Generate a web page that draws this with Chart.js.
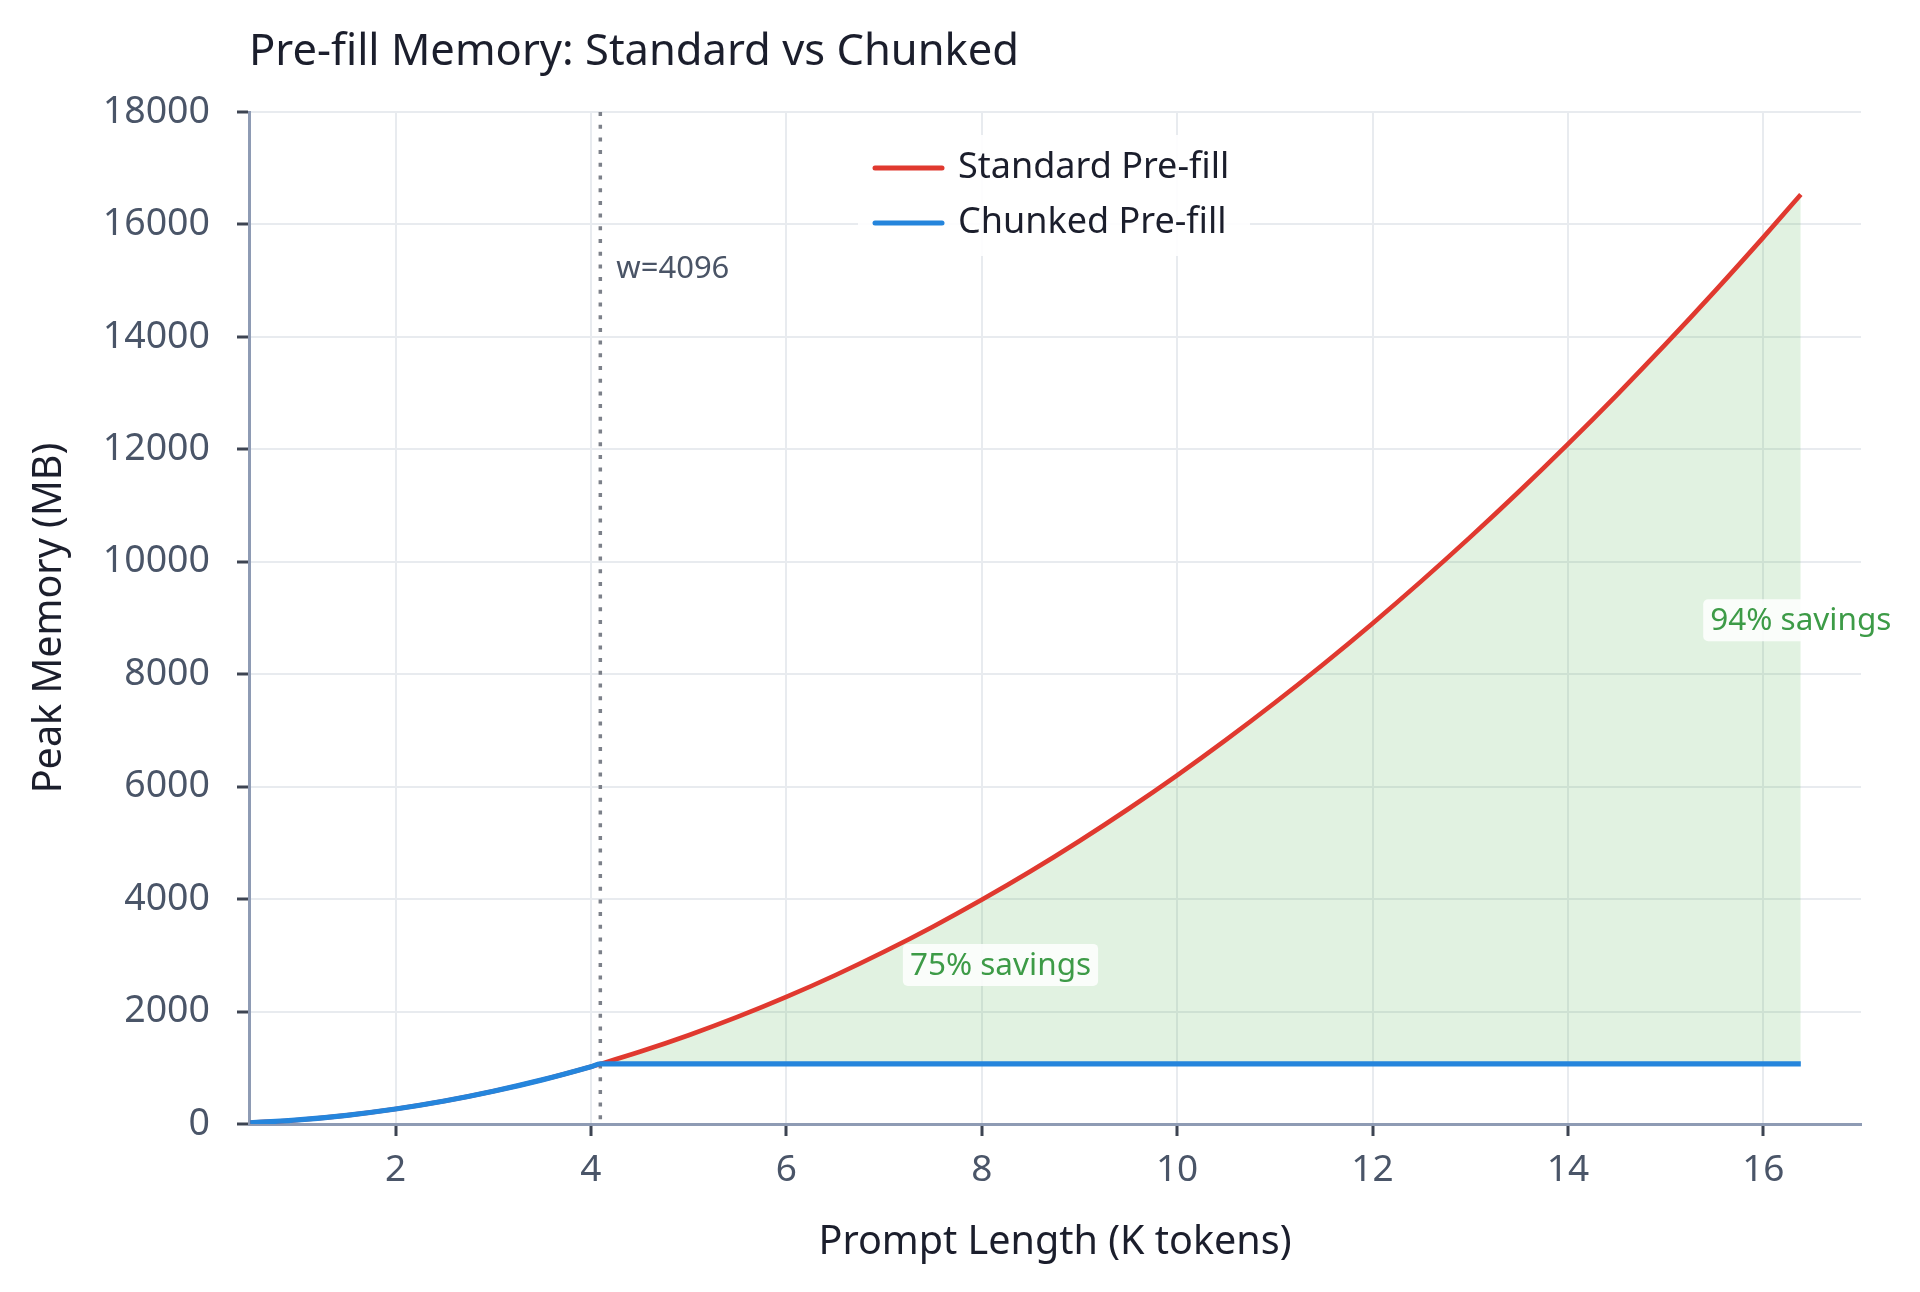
<!DOCTYPE html>
<html>
<head>
<meta charset="utf-8">
<title>Pre-fill Memory: Standard vs Chunked</title>
<script src="https://cdn.jsdelivr.net/npm/chart.js@4.4.1/dist/chart.umd.min.js"></script>
<style>
  html, body { margin: 0; padding: 0; background: #fff; }
  #wrap { width: 1920px; height: 1292px; }
</style>
</head>
<body>
<div id="wrap"><canvas id="memChart" width="1920" height="1292"></canvas></div>
<script>
// prompt length in K tokens
const promptK = [0.512, 1, 1.5, 2, 2.5, 3, 3.5, 4, 4.096,
  4.5, 5, 5.5, 6, 6.5, 7, 7.5, 8, 8.5, 9, 9.5, 10, 10.5, 11, 11.5, 12,
  12.5, 13, 13.5, 14, 14.5, 15, 15.5, 16, 16.384];

// peak memory (MB)
const standardMB = [22, 72, 154, 266, 408, 582, 785, 1019, 1068,
  1284, 1579, 1904, 2260, 2646, 3063, 3510, 3988, 4495, 5034, 5603, 6202, 6832, 7492, 8183, 8904,
  9656, 10438, 11250, 12093, 12966, 13870, 14805, 15770, 16532];
const chunkedMB = [22, 72, 154, 266, 408, 582, 785, 1019, 1068,
  1068, 1068, 1068, 1068, 1068, 1068, 1068, 1068, 1068, 1068, 1068, 1068, 1068, 1068, 1068, 1068,
  1068, 1068, 1068, 1068, 1068, 1068, 1068, 1068, 1068];

const xTicks = [2, 4, 6, 8, 10, 12, 14, 16];
const windowK = 4.096;
const windowLabel = 'w=4096';

// savings annotations
const savingsText = ['75% savings', '94% savings'];
const savingsX = [8.192, 16.384];
const savingsY = [2830, 8960];

const RED = '#e0392f';
const BLUE = '#2585dc';
const GREEN_TXT = '#3d9b47';
const FILL = 'rgba(76, 175, 80, 0.17)';
const TICK_TXT = '#4a5568';
const DARK = '#1b1e2c';
const FONT = "'Noto Sans', sans-serif";

Chart.defaults.font.family = FONT;

const toPoints = (ys) => promptK.map((x, i) => ({x: x, y: ys[i]}));

const extras = {
  id: 'extras',
  beforeDatasetsDraw(chart) {
    const {ctx, chartArea, scales: {x}} = chart;
    const px = x.getPixelForValue(windowK);
    ctx.save();
    ctx.strokeStyle = '#7c8089';
    ctx.lineWidth = 3.5;
    ctx.setLineDash([4, 8.7]);
    ctx.beginPath();
    ctx.moveTo(px, chartArea.top);
    ctx.lineTo(px, chartArea.bottom);
    ctx.stroke();
    ctx.restore();
  },
  afterDatasetsDraw(chart) {
    const {ctx, chartArea, scales: {x, y}} = chart;
    ctx.save();

    // window label
    ctx.font = '31px ' + FONT;
    ctx.fillStyle = '#4a5466';
    ctx.textAlign = 'left';
    ctx.textBaseline = 'middle';
    ctx.fillText(windowLabel, x.getPixelForValue(windowK) + 16, y.getPixelForValue(15200));

    // savings labels
    ctx.font = '31.5px ' + FONT;
    ctx.textAlign = 'center';
    savingsText.forEach((t, i) => {
      const cx = x.getPixelForValue(savingsX[i]);
      const cy = y.getPixelForValue(savingsY[i]);
      const w = ctx.measureText(t).width + 14;
      ctx.fillStyle = 'rgba(255,255,255,0.85)';
      ctx.beginPath();
      ctx.roundRect(cx - w / 2, cy - 21, w, 42, 5);
      ctx.fill();
      ctx.fillStyle = GREEN_TXT;
      ctx.fillText(t, cx, cy + 1);
    });

    // legend, centered at the top of the plot area
    const midX = (chartArea.left + chartArea.right) / 2;
    const bx = midX - 197, by = chartArea.top + 23;
    ctx.fillStyle = 'rgba(255,255,255,0.9)';
    ctx.beginPath();
    ctx.roundRect(bx, by, 392, 121, 4);
    ctx.fill();
    ctx.font = '36px ' + FONT;
    ctx.textAlign = 'left';
    chart.data.datasets.forEach((ds, i) => {
      const ly = by + 33 + i * 55;
      ctx.strokeStyle = ds.borderColor;
      ctx.lineWidth = 5;
      ctx.lineCap = 'round';
      ctx.beginPath();
      ctx.moveTo(bx + 17, ly);
      ctx.lineTo(bx + 84, ly);
      ctx.stroke();
      ctx.fillStyle = DARK;
      ctx.fillText(ds.label, bx + 100, ly);
    });

    // title
    ctx.font = '43.5px ' + FONT;
    ctx.textBaseline = 'alphabetic';
    ctx.fillStyle = DARK;
    ctx.fillText('Pre-fill Memory: Standard vs Chunked', chartArea.left, 65);
    ctx.restore();
  }
};

const ctx = document.getElementById('memChart').getContext('2d');

const memChart = new Chart(ctx, {
  type: 'line',
  data: {
    datasets: [{
      label: 'Standard Pre-fill',
      data: toPoints(standardMB),
      borderColor: RED,
      borderWidth: 4.6,
      pointRadius: 0,
      cubicInterpolationMode: 'monotone',
      fill: {target: 1, above: FILL, below: 'rgba(0,0,0,0)'},
      order: 1
    }, {
      label: 'Chunked Pre-fill',
      data: toPoints(chunkedMB),
      borderColor: BLUE,
      borderWidth: 5.2,
      pointRadius: 0,
      cubicInterpolationMode: 'monotone',
      fill: false,
      order: 0
    }]
  },
  options: {
    responsive: false,
    animation: false,
    devicePixelRatio: 1,
    layout: {padding: {left: 0, right: 59, top: 112, bottom: 0}},
    plugins: {
      legend: {display: false},
      title: {display: false},
      tooltip: {enabled: false}
    },
    scales: {
      x: {
        type: 'linear',
        min: 0.5,
        max: 17,
        afterBuildTicks: (s) => { s.ticks = xTicks.map(v => ({value: v})); },
        afterFit: (s) => { s.height = 168; },
        ticks: {font: {size: 37}, color: TICK_TXT, padding: 12, callback: (v) => String(v)},
        grid: {color: '#e8ebef', lineWidth: 2, tickColor: '#3d4452', tickLength: 12, tickWidth: 3},
        border: {color: '#8e9bb4', width: 3},
        title: {display: true, text: 'Prompt Length (K tokens)', color: DARK,
          font: {size: 39.5}, padding: {top: 0, bottom: 26}}
      },
      y: {
        min: 0,
        max: 18000,
        afterFit: (s) => { s.width = 249; },
        ticks: {stepSize: 2000, font: {size: 37.5}, color: TICK_TXT, padding: 27, callback: (v) => String(v)},
        grid: {color: '#e8ebef', lineWidth: 2, tickColor: '#3d4452', tickLength: 12, tickWidth: 3},
        border: {color: '#8e9bb4', width: 3},
        title: {display: true, text: 'Peak Memory (MB)', color: DARK,
          font: {size: 39.5}, padding: {top: 26, bottom: 0}}
      }
    }
  },
  plugins: [extras]
});
</script>
</body>
</html>
